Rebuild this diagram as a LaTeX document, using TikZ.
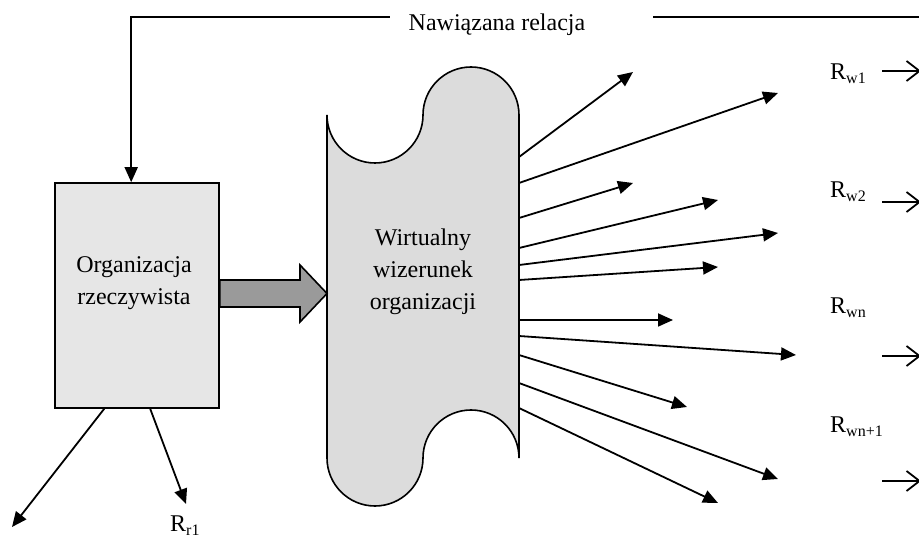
\documentclass[tikz,border=0pt]{standalone}
\usepackage{fontspec}
\setmainfont{Liberation Serif}
\usetikzlibrary{arrows.meta,calc}
\definecolor{boxgray}{HTML}{E6E6E6}
\definecolor{tapegray}{HTML}{DCDCDC}
\definecolor{fatgray}{HTML}{9A9A9A}
\newcommand{\rsub}[1]{R{\fontsize{16}{16}\selectfont\raisebox{-4pt}{#1}}}
\begin{document}
\begin{tikzpicture}[x=1pt,y=-1pt,
  every node/.style={font=\fontsize{24}{32}\selectfont, inner sep=0pt},
  outline/.style={draw=black, line width=1.6pt},
  link/.style={line width=1.8pt},
  conn/.style={link, -{Triangle[length=15pt,width=13pt]}},
  openarr/.style={link, -{Straight Barb[length=13pt,width=20pt,line width=1.8pt]}},
  lbl/.style={anchor=base west}]
\useasboundingbox (0,0) rectangle (919,537);

% real organisation
\node[outline, fill=boxgray, minimum width=164pt, minimum height=225pt] (org) at (137,295.5) {};
\node[align=center] (orgtxt) at (134,283) {Organizacja\\rzeczywista};

% virtual image (punched-tape shape)
\draw[outline, fill=tapegray]
  (327,115) arc[start angle=180, end angle=0, radius=48]
  arc[start angle=180, end angle=360, radius=48]
  -- (519,458)
  arc[start angle=0, end angle=-180, radius=48]
  arc[start angle=0, end angle=180, radius=48]
  -- cycle;
\node[align=center] (virt) at (423,272) {Wirtualny\\wizerunek\\organizacji};

% broad arrow from the organisation to its image
\draw[outline, fill=fatgray]
  (org.east |- 0,280) -- (300,280) -- (300,265) -- (327,293.5)
  -- (300,322) -- (300,307) -- (org.east |- 0,307) -- cycle;

% established relation
\node[anchor=base] (rel) at (497,31) {Nawiązana relacja};
\coordinate (relL) at ($(rel.west)+(-19,0)$);
\coordinate (relR) at ($(rel.east)+(68,0)$);
\coordinate (relEnd) at (925,0 |- relR);
\coordinate (inTop) at ($(org.north west)+(77,0)$);
\path (relL) ++(0,-8.5) coordinate (relL);
\path (relR) ++(0,-8.5) coordinate (relR);
\path (relEnd) ++(0,-8.5) coordinate (relEnd);
\draw[conn] (relL) -| (inTop);
\draw[link] (relR) -- (relEnd);

% relations of the real organisation
\coordinate (r0) at ($(org.south west)+(50,0)$);
\coordinate (r1) at ($(org.south west)+(96,0)$);
\coordinate (rt0) at (12,527);
\coordinate (rt1) at (186,504);
\draw[conn] (r0) -- (rt0);
\draw[conn] (r1) -- (rt1);
\node[lbl] (lr1) at (170,531) {\rsub{r1}};

% relations of the virtual image
\foreach \i/\sy/\tx/\ty in {1/157/633/72, 2/183/778/93, 3/218/633/183,
    4/248/718/200, 5/265/778/233, 6/280/718/267, 7/320/673/320,
    8/336/796/355, 9/355/687/407, 10/383/778/479, 11/408/718/503}{
  \coordinate (s\i) at (519,\sy);
  \coordinate (t\i) at (\tx,\ty);
  \draw[conn] (s\i) -- (t\i);
}

% named relations on the right
\node[lbl] (w1) at (830,80) {\rsub{w1}};
\node[lbl] (w2) at (830,198) {\rsub{w2}};
\node[lbl] (wn) at (830,314) {\rsub{wn}};
\node[lbl] (wn1) at (830,432) {\rsub{wn+1}};
\foreach \n/\y in {a/71, b/202, c/356, d/481}{
  \coordinate (o\n) at (882,\y);
  \coordinate (e\n) at (921,\y);
  \draw[openarr] (o\n) -- (e\n);
}
\end{tikzpicture}
\end{document}
